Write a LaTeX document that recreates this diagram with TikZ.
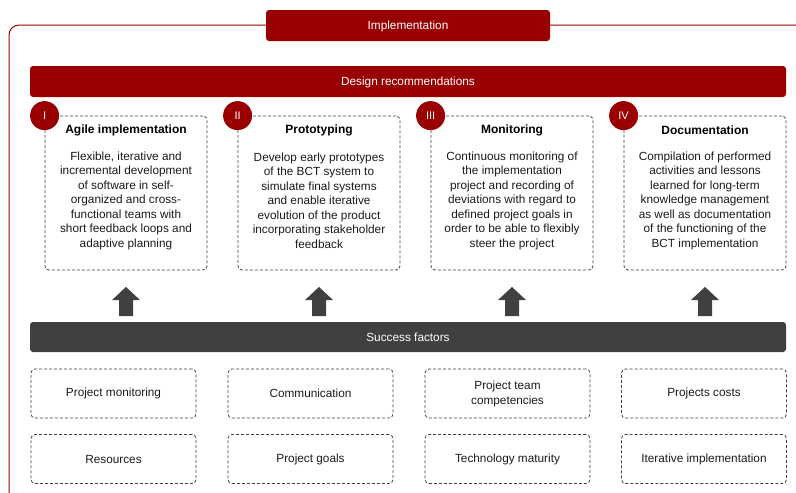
\documentclass[tikz,border=0pt]{standalone}
\usepackage{fontspec}
\setmainfont{Liberation Sans}
\definecolor{dred}{HTML}{990000}
\definecolor{dgray}{HTML}{404040}
\definecolor{txt}{HTML}{1A1A1A}
\tikzset{
  redbar/.style={fill=dred, rounded corners=3pt, text=white, font=\fontsize{11.8}{14}\selectfont, inner sep=0pt, text height=8.5pt, text depth=0pt},
  graybar/.style={fill=dgray, rounded corners=3pt, text=white, font=\fontsize{11.8}{14}\selectfont, inner sep=0pt, text height=8.5pt, text depth=0pt},
  dbox/.style={draw=dgray, dash pattern=on 3pt off 2pt, line width=0.8pt, rounded corners=4pt, inner sep=0pt},
  numcirc/.style={circle, fill=dred, minimum size=29pt, inner sep=0pt, text=white, font=\fontsize{11}{13}\selectfont},
  ttl/.style={font=\bfseries\fontsize{12}{14}\selectfont, text=black, inner sep=0pt},
  body/.style={align=center, font=\fontsize{11.8}{14.5}\selectfont, text=txt, inner sep=0pt},
  sflabel/.style={align=center, font=\fontsize{11.8}{15}\selectfont, text=txt},
  uparrow/.style={fill=dgray, draw=none},
}
\begin{document}
\begin{tikzpicture}[x=1pt,y=-1pt]
\useasboundingbox (0,0) rectangle (796,493);
% outer frame
\draw[dred, line width=1pt, rounded corners=10pt] (796,25) -- (9,25) -- (9,493);
% Implementation
\node[redbar, minimum width=284pt, minimum height=31pt] (impl) at (408,25.5) {Implementation};
% Design recommendations
\node[redbar, minimum width=756pt, minimum height=31pt] (design) at (408,81.5) {Design recommendations};
% Recommendation boxes
\foreach \i/\x in {1/126,2/319,3/512,4/705}{
  \node[dbox, minimum width=162pt, minimum height=154pt] (box\i) at (\x,193) {};
}
\foreach \i/\n in {1/I,2/II,3/III,4/IV}{
  \node[numcirc] (c\i) at (box\i.north west) {\n};
}
\node[ttl] (t1) at (126,130.5) {Agile implementation};
\node[ttl] (t2) at (319,130.5) {Prototyping};
\node[ttl] (t3) at (512,130.5) {Monitoring};
\node[ttl] (t4) at (705,130.5) {Documentation};
\node[body] (b1) at (126,200.5) {Flexible, iterative and\\incremental development\\of software in self-\\organized and cross-\\functional teams with\\short feedback loops and\\adaptive planning};
\node[body] (b2) at (319,200.5) {Develop early prototypes\\of the BCT system to\\simulate final systems\\and enable iterative\\evolution of the product\\incorporating stakeholder\\feedback};
\node[body] (b3) at (512,200.5) {Continuous monitoring of\\the implementation\\project and recording of\\deviations with regard to\\defined project goals in\\order to be able to flexibly\\steer the project};
\node[body] (b4) at (705,200.5) {Compilation of performed\\activities and lessons\\learned for long-term\\knowledge management\\as well as documentation\\of the functioning of the\\BCT implementation};
% Success factors
\node[graybar, minimum width=756pt, minimum height=30pt] (sf) at (408,337) {Success factors};
% up arrows
\foreach \i/\x in {1/126,2/319,3/512,4/705}{
  \coordinate (a\i) at (\x,316);
  \fill[uparrow] ([xshift=-7pt]a\i) -- ([xshift=-7pt,yshift=16pt]a\i) -- ([xshift=-14pt,yshift=16pt]a\i)
     -- ([yshift=29pt]a\i) -- ([xshift=14pt,yshift=16pt]a\i) -- ([xshift=7pt,yshift=16pt]a\i) -- ([xshift=7pt]a\i) -- cycle;
}
% success factor boxes
\tikzset{sfbox/.style={dbox, sflabel, minimum width=165pt, minimum height=49pt}}
\node[sfbox] (f11) at (113.5,393.5) {Project monitoring};
\node[sfbox] (f12) at (310.5,393.5) {Communication};
\node[sfbox] (f13) at (507.5,393.5) {Project team\\competencies};
\node[sfbox] (f14) at (704,393.5) {Projects costs};
\node[sfbox] (f21) at (113.5,459) {Resources};
\node[sfbox] (f22) at (310.5,459) {Project goals};
\node[sfbox] (f23) at (507.5,459) {Technology maturity};
\node[sfbox] (f24) at (704,459) {Iterative implementation};
\end{tikzpicture}
\end{document}
